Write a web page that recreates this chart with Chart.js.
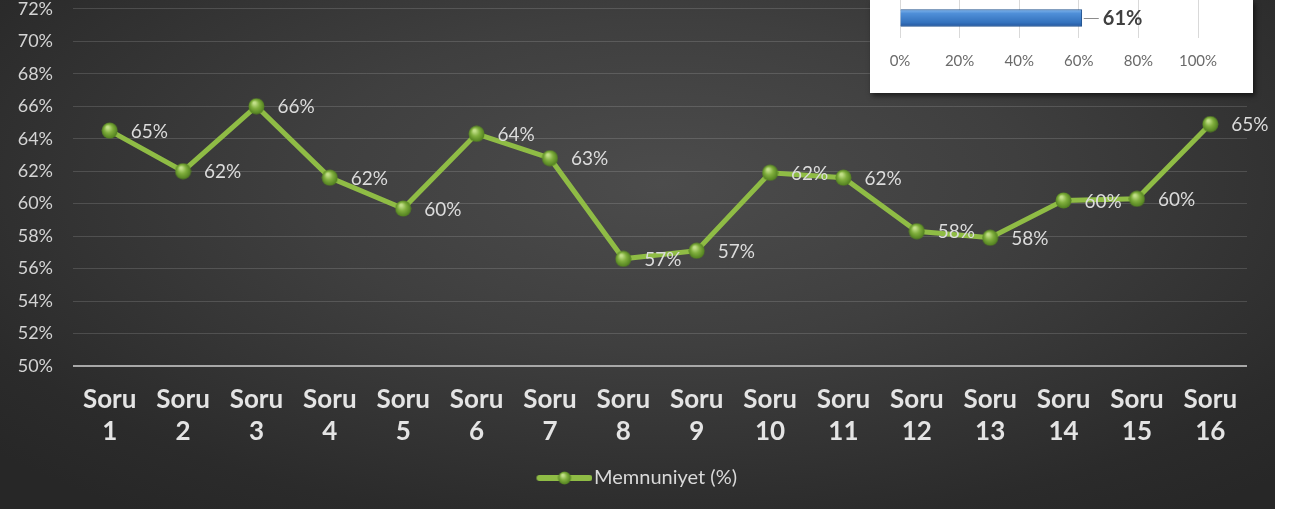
<!DOCTYPE html>
<html>
<head>
<meta charset="utf-8">
<script src="https://cdn.jsdelivr.net/npm/chart.js@4"></script>
<style>
  html, body { margin: 0; padding: 0; background: #fff; }
  body { width: 1290px; height: 509px; position: relative; overflow: hidden; }
  #bg {
    position: absolute; left: 0; top: 0; width: 1275px; height: 509px;
    background: radial-gradient(ellipse 70% 80% at 52% 36%, #4c4c4c 0%, #3f3f3f 40%, #2b2b2b 85%, #272727 100%);
  }
  #main { position: absolute; left: 0; top: -22px; }
  #inset {
    position: absolute; left: 870px; top: 0; width: 383px; height: 93px;
    background: #fff; box-shadow: 2px 3px 5px rgba(0,0,0,0.55); overflow: hidden;
  }
  #overall { position: absolute; left: 0; top: -2px; }
</style>
</head>
<body>
<div id="bg"></div>
<canvas id="main" width="1275" height="531"></canvas>
<div id="inset"><canvas id="overall" width="383" height="95"></canvas></div>
<script>
// values
const categories = ['Soru 1', 'Soru 2', 'Soru 3', 'Soru 4', 'Soru 5', 'Soru 6', 'Soru 7', 'Soru 8',
  'Soru 9', 'Soru 10', 'Soru 11', 'Soru 12', 'Soru 13', 'Soru 14', 'Soru 15', 'Soru 16']
const satisfaction = [64.5, 62.0, 66.0, 61.6, 59.7, 64.3, 62.8, 56.6, 57.1, 61.9, 61.6, 58.3, 57.9, 60.2, 60.3, 64.9]
const seriesName = 'Memnuniyet (%)'
const yMin = 50, yMax = 72, yStep = 2

const overallCategory = ['Genel']
const overallValue = [61]
const overallMin = 0, overallMax = 100, overallStep = 20

const GREEN = '#8fbc45'
const FONT = 'Lato'

// little shaded ball used as marker
function ball(d) {
  const c = document.createElement('canvas')
  c.width = d; c.height = d
  const g = c.getContext('2d')
  const r = d / 2
  const grd = g.createRadialGradient(r * 0.75, r * 0.6, 1, r, r, r)
  grd.addColorStop(0, '#c3e08a')
  grd.addColorStop(0.45, '#7fae3c')
  grd.addColorStop(1, '#4c7a1c')
  g.fillStyle = grd
  g.beginPath(); g.arc(r, r, r - 0.5, 0, Math.PI * 2); g.fill()
  return c
}
const pointImg = ball(17)

// legend marker: line + ball, drawn on the right part of the image
const legendImg = (() => {
  const c = document.createElement('canvas')
  c.width = 91; c.height = 14
  const g = c.getContext('2d')
  g.strokeStyle = GREEN; g.lineWidth = 6; g.lineCap = 'round'
  g.beginPath(); g.moveTo(38, 7); g.lineTo(88, 7); g.stroke()
  g.drawImage(ball(14), 56, 0)
  return c
})()

const pointLabels = {
  id: 'pointLabels',
  afterDatasetsDraw(chart) {
    const ctx = chart.ctx
    const meta = chart.getDatasetMeta(0)
    ctx.save()
    ctx.font = '19px ' + FONT
    ctx.fillStyle = '#dcdcdc'
    ctx.textAlign = 'left'
    ctx.textBaseline = 'middle'
    meta.data.forEach((p, i) => {
      ctx.fillText(Math.round(satisfaction[i]) + '%', p.x + 21, p.y + 1)
    })
    ctx.restore()
  }
}

new Chart(document.getElementById('main').getContext('2d'), {
  type: 'line',
  data: {
    labels: categories,
    datasets: [{
      label: seriesName,
      data: satisfaction,
      borderColor: GREEN,
      borderWidth: 5,
      pointStyle: pointImg,
      pointRadius: 8,
      tension: 0
    }]
  },
  options: {
    animation: false,
    responsive: false,
    maintainAspectRatio: false,
    layout: { padding: { top: 23, right: 28, bottom: 11, left: 0 } },
    scales: {
      x: {
        offset: true,
        grid: { display: false },
        border: { display: false },
        ticks: {
          color: '#e4e4e4',
          font: { family: FONT, size: 26, weight: 'bold', lineHeight: 1.25 },
          padding: 9,
          maxRotation: 0,
          autoSkip: false,
          callback: function (v) { return this.getLabelForValue(v).split(' ') }
        },
        afterFit(s) { s.height = 96 }
      },
      y: {
        min: yMin, max: yMax,
        grid: {
          drawTicks: false,
          color: ctx => ctx.tick && ctx.tick.value === yMin ? '#a8a8a8' : 'rgba(255,255,255,0.14)',
          lineWidth: ctx => ctx.tick && ctx.tick.value === yMin ? 2 : 1
        },
        border: { display: false },
        ticks: {
          stepSize: yStep,
          color: '#d4d4d4',
          font: { family: FONT, size: 18 },
          padding: 20,
          callback: v => v + '%'
        },
        afterFit(s) { s.width = 73 }
      }
    },
    plugins: {
      legend: {
        position: 'bottom',
        labels: {
          usePointStyle: true,
          pointStyle: legendImg,
          pointStyleWidth: 74,
          color: '#d9d9d9',
          font: { family: FONT, size: 20 },
          padding: 6
        }
      },
      tooltip: { enabled: false }
    }
  },
  plugins: [pointLabels]
})

// overall inset bar
const barEndLabel = {
  id: 'barEndLabel',
  afterDatasetsDraw(chart) {
    const ctx = chart.ctx
    const bar = chart.getDatasetMeta(0).data[0]
    ctx.save()
    ctx.strokeStyle = '#8c8c8c'
    ctx.lineWidth = 1
    ctx.beginPath(); ctx.moveTo(bar.x + 2, bar.y + 0.5); ctx.lineTo(bar.x + 17, bar.y + 0.5); ctx.stroke()
    ctx.font = 'bold 20px ' + FONT
    ctx.fillStyle = '#404040'
    ctx.textBaseline = 'middle'
    ctx.fillText(overallValue[0] + '%', bar.x + 21, bar.y + 1)
    ctx.restore()
  }
}

new Chart(document.getElementById('overall').getContext('2d'), {
  type: 'bar',
  data: {
    labels: overallCategory,
    datasets: [{
      data: overallValue,
      barThickness: 17,
      borderWidth: 1,
      borderColor: '#24548f',
      backgroundColor: ctx => {
        const a = ctx.chart.chartArea
        if (!a || !isFinite(a.top)) return '#4a8cd6'
        const y = (a.top + a.bottom) / 2
        const g = ctx.chart.ctx.createLinearGradient(0, y - 9, 0, y + 9)
        g.addColorStop(0, '#86b9ee')
        g.addColorStop(0.25, '#4f8fd8')
        g.addColorStop(0.75, '#3472bd')
        g.addColorStop(1, '#22539a')
        return g
      }
    }]
  },
  options: {
    indexAxis: 'y',
    animation: false,
    responsive: false,
    maintainAspectRatio: false,
    layout: { padding: { top: 0, right: 55, bottom: 0, left: 30 } },
    scales: {
      x: {
        min: overallMin, max: overallMax,
        grid: { color: '#d9d9d9', drawTicks: false },
        border: { display: false },
        ticks: {
          stepSize: overallStep,
          color: '#6a6a6a',
          font: { family: FONT, size: 15 },
          padding: 14,
          callback: v => v + '%'
        },
        afterFit(s) { s.height = 55 }
      },
      y: { display: false }
    },
    plugins: { legend: { display: false }, tooltip: { enabled: false } }
  },
  plugins: [barEndLabel]
})
</script>
</body>
</html>
